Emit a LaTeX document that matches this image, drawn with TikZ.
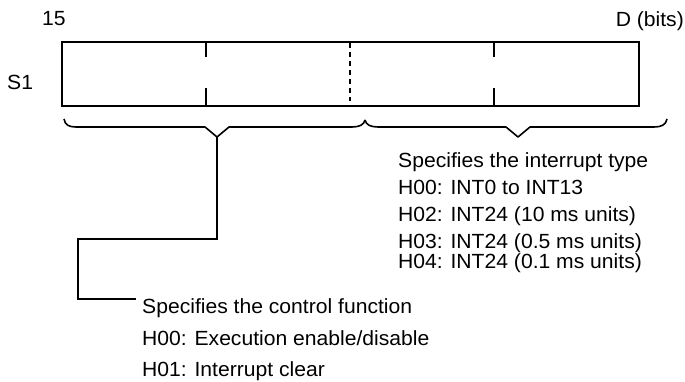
\documentclass[tikz,border=0pt]{standalone}
\usepackage{fontspec}
\setmainfont{Liberation Sans}[FakeStretch=1.03]
\begin{document}
\begin{tikzpicture}[x=1pt,y=-1pt,
  lbl/.style={inner sep=0pt,anchor=base west,font=\fontsize{20.5}{24}\selectfont},
  ln/.style={line width=1.5pt,line cap=butt,line join=miter},
  bracepath/.style={line width=1.6pt,line join=round}]
\useasboundingbox (0,0) rectangle (685,382);
% labels on top
\node[lbl] (b15) at (42,26) {15};
\node[lbl,anchor=base east] (bD) at (684,27) {D (bits)};
\node[lbl] (s1) at (7,90) {S1};
% register box
\draw[ln] (62,42) rectangle (639,106);
\draw[ln] (206,42) -- (206,57);
\draw[ln] (206,88) -- (206,106);
\draw[ln] (494,42) -- (494,57);
\draw[ln] (494,88) -- (494,106);
\draw[ln,dash pattern=on 5pt off 4pt] (350,43) -- (350,101);
% braces
\coordinate (tipL) at (217,137);
\coordinate (tipR) at (518,137);
\draw[bracepath] (64,119) .. controls (65,125) and (69,127) .. (76,127)
  -- (205,127) -- (tipL) -- (229,127) -- (352,127)
  .. controls (359,127) and (364,125) .. (365,120);
\draw[bracepath] (365,120) .. controls (366,125) and (371,127) .. (378,127)
  -- (506,127) -- (tipR) -- (530,127) -- (654,127)
  .. controls (661,127) and (666,125) .. (667,119);
% interrupt type text
\node[lbl] (it0) at (398,168) {Specifies the interrupt type};
\node[lbl] (it1) at (398,195) {H00: INT0 to INT13};
\node[lbl] (it2) at (398,222) {H02: INT24 (10 ms units)};
\node[lbl] (it3) at (398,248) {H03: INT24 (0.5 ms units)};
\node[lbl] (it4) at (398,268) {H04: INT24 (0.1 ms units)};
% control function text
\node[lbl] (cf0) at (142,313) {Specifies the control function};
\node[lbl] (cf1) at (142,345) {H00: Execution enable/disable};
\node[lbl] (cf2) at (142,376) {H01: Interrupt clear};
% connector
\coordinate (bend1) at (217,239);
\coordinate (bend2) at (78,239);
\coordinate (bend3) at (78,299);
\coordinate (lend) at (136,299);
\draw[ln,line join=miter] (tipL) -- (bend1) -- (bend2) -- (bend3) -- (lend);
\end{tikzpicture}
\end{document}
